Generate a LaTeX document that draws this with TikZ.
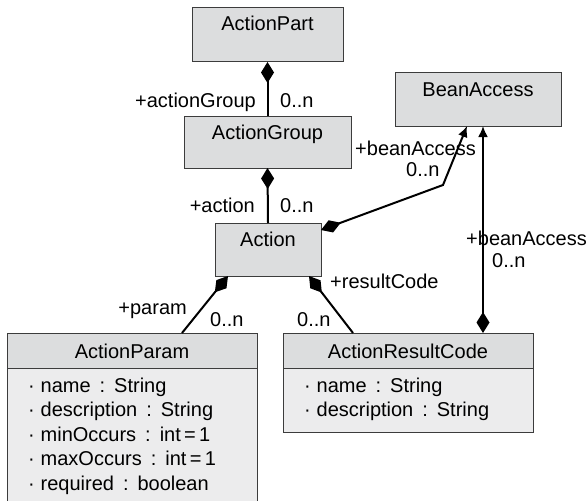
\documentclass[tikz,border=0pt]{standalone}
\usepackage{fontspec}
\setmainfont{Liberation Sans}
\usetikzlibrary{positioning,arrows.meta}
\definecolor{headfill}{RGB}{220,221,222}
\definecolor{bodyfill}{RGB}{236,236,237}
\definecolor{boxline}{RGB}{60,60,60}
\newcommand{\umlfont}{\fontsize{20}{24.5}\selectfont}
\newcommand{\attr}[2]{\textperiodcentered\hspace{0.3em}#1\hspace{0.45em}:\hspace{0.45em}#2}
\tikzset{
  classbox/.style={draw=boxline, fill=headfill, line width=1pt, inner sep=0pt,
    outer sep=0pt, font=\umlfont, text height=23pt, anchor=north west},
  attrbox/.style={draw=boxline, fill=bodyfill, line width=1pt, inner xsep=21pt,
    inner ysep=0pt, outer sep=0pt, font=\umlfont, text width=208pt, align=left,
    text height=24pt},
  lbl/.style={font=\umlfont, inner sep=0pt},
  compline/.style={line width=2pt, {Diamond[length=21pt,width=13pt]}-},
  navline/.style={line width=2pt, {Diamond[length=21pt,width=13pt]}-{Latex[length=11pt,width=10pt]}}
}

\begin{document}
\begin{tikzpicture}[x=1pt,y=-1pt]
\useasboundingbox (0,0) rectangle (588,500);

% classes
\node[classbox, minimum width=151pt, text depth=31pt] (part) at (192,8) {ActionPart};
\node[classbox, minimum width=167pt, text depth=29pt] (group) at (184,116) {ActionGroup};
\node[classbox, minimum width=106pt, text depth=30pt] (action) at (215,223) {Action};
\node[classbox, minimum width=166pt, text depth=30pt] (bean) at (395,73) {BeanAccess};

\node[classbox, minimum width=250pt, text height=25pt, text depth=10pt] (param) at (7,333) {ActionParam};
\node[attrbox, text depth=113pt, below=0pt of param] (paramattr) {\attr{name}{String}\\
  \attr{description}{String}\\
  \attr{minOccurs}{int\,=\,1}\\
  \attr{maxOccurs}{int\,=\,1}\\
  \attr{required}{boolean}};

\node[classbox, minimum width=250pt, text height=25pt, text depth=10pt] (code) at (283,333) {ActionResultCode};
\node[attrbox, text depth=40pt, below=0pt of code] (codeattr) {\attr{name}{String}\\
  \attr{description}{String}};

% associations
\coordinate (bend) at (443,185);
\draw[compline] (part.south) -- (group.north);
\draw[compline] (group.south) -- (action.north);
\draw[navline] ([yshift=-7pt]action.north east) -- (bend) -- ([xshift=72pt]bean.south west);
\draw[navline] ([xshift=200pt]code.north west) -- ([xshift=88pt]bean.south west);
\draw[compline] ([xshift=13pt]action.south west) -- ([xshift=175pt]param.north west);
\draw[compline] ([xshift=-12pt]action.south east) -- ([xshift=70pt]code.north west);

% roles and multiplicities
\node[lbl, anchor=base east] (lgroup) at (256,107) {+actionGroup};
\node[lbl, anchor=base west] (mgroup) at (280,107) {0..n};
\node[lbl, anchor=base east] (laction) at (255,212) {+action};
\node[lbl, anchor=base west] (maction) at (280,212) {0..n};
\node[lbl, anchor=base west] (lbean) at (355,155) {+beanAccess};
\node[lbl, anchor=base west] (mbean) at (406,176) {0..n};
\node[lbl, anchor=base west] (lbeantwo) at (466,245) {+beanAccess};
\node[lbl, anchor=base west] (mbeantwo) at (492,267) {0..n};
\node[lbl, anchor=base west] (lcode) at (330,288) {+resultCode};
\node[lbl, anchor=base east] (lparam) at (187,314) {+param};
\node[lbl, anchor=base west] (mparam) at (210,326) {0..n};
\node[lbl, anchor=base west] (mcode) at (297,326) {0..n};
\end{tikzpicture}
\end{document}
